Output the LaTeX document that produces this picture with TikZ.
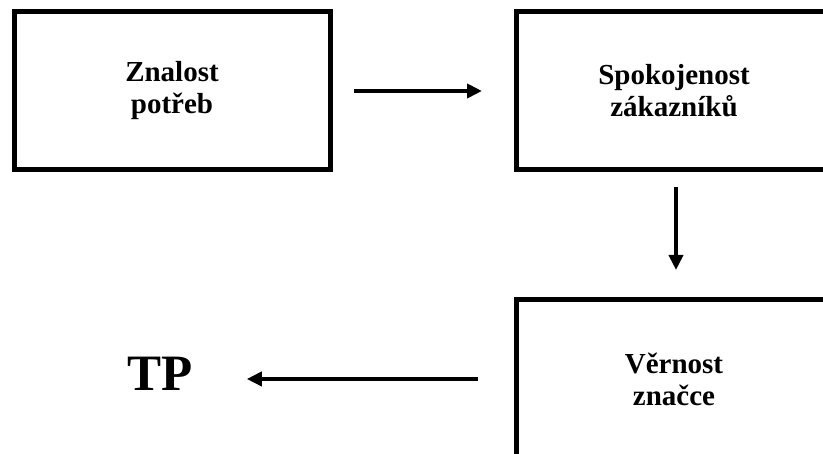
\documentclass[tikz,border=0pt]{standalone}
\usepackage{fontspec}
\setmainfont{Liberation Serif}
\usetikzlibrary{arrows.meta}

\begin{document}
\begin{tikzpicture}[x=1pt,y=1pt,
  box/.style={draw=black,line width=5pt,minimum width=316pt,minimum height=158pt,
    inner sep=0pt,align=center,font=\bfseries\fontsize{29}{32}\selectfont},
  flow/.style={-{Triangle[length=15pt,width=14pt]},line width=4.5pt}]
  \useasboundingbox (0,0) rectangle (823,454);
  \fill[white] (0,0) rectangle (823,454);
  \clip (0,0) rectangle (823,454);

  % The two right-hand boxes run past the page edge, as in the scan.
  \node[box] (needs) at (172,363) {Znalost\\potřeb};
  \node[box] (satisfaction) at (674,363) {Spokojenost\\zákazníků};
  \node[box] (loyalty) at (674,75) {Věrnost\\značce};
  \node[font=\bfseries\fontsize{51}{51}\selectfont,inner sep=0pt] (tp) at (160,80) {TP};

  \draw[flow,shorten <=21.5pt,shorten >=31.5pt] (needs.east) -- (satisfaction.west);
  \draw[flow,shorten <=14.5pt,shorten >=27.5pt]
    ([xshift=2pt]satisfaction.south) -- ([xshift=2pt]loyalty.north);
  \draw[flow,shorten <=35.5pt,shorten >=54pt] (loyalty.west) -- (loyalty.west -| tp.east);
\end{tikzpicture}
\end{document}
